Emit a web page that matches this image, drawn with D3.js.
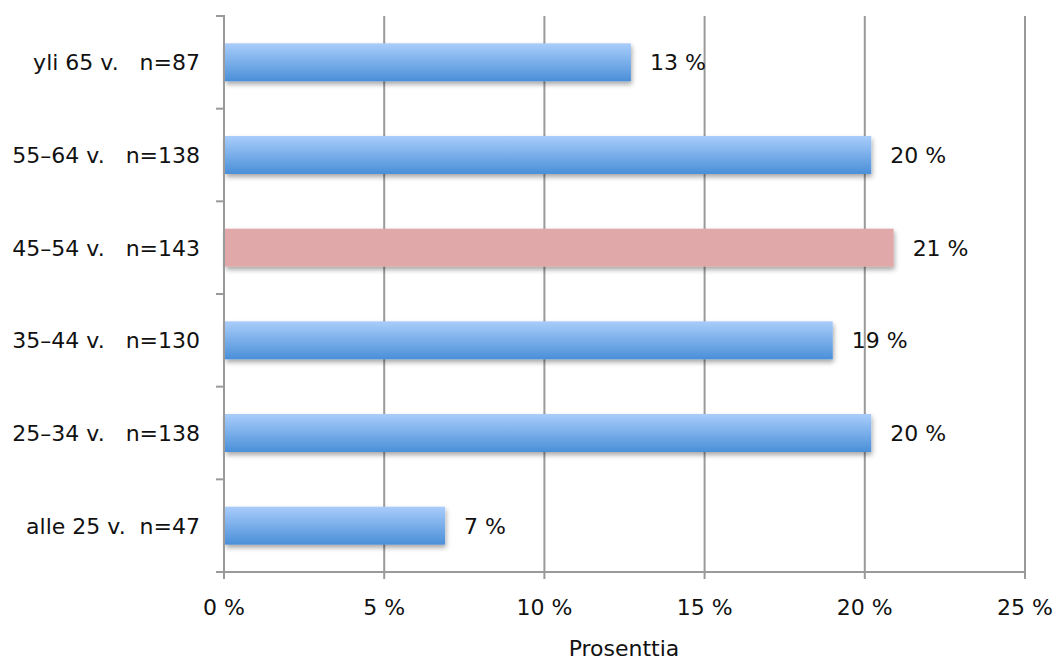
<!DOCTYPE html>
<html>
<head>
<meta charset="utf-8">
<script src="https://cdn.jsdelivr.net/npm/d3@7"></script>
<style>
  html, body { margin: 0; padding: 0; background: #fff; }
  svg { display: block; }
  text { font-family: "DejaVu Sans", sans-serif; fill: #111; }
</style>
</head>
<body>
<svg id="chart" width="1058" height="660"></svg>
<script>
// Age groups, top to bottom
const groups = ["yli 65 v.", "55–64 v.", "45–54 v.", "35–44 v.", "25–34 v.", "alle 25 v."];
const counts = ["n=87", "n=138", "n=143", "n=130", "n=138", "n=47"];
const gaps   = ["   ", "   ", "   ", "   ", "   ", "  "];
// Share of respondents, percent
const values = [12.7, 20.2, 20.9, 19.0, 20.2, 6.9];
const valueLabels = ["13 %", "20 %", "21 %", "19 %", "20 %", "7 %"];
const highlighted = [false, false, true, false, false, false];
const xTicks = [0, 5, 10, 15, 20, 25];
const xTickLabels = ["0 %", "5 %", "10 %", "15 %", "20 %", "25 %"];
const xTitle = "Prosenttia";

const svg = d3.select("#chart");
const plotLeft = 224, plotRight = 1025, plotTop = 16, plotBottom = 572;
const fontSize = 22;

const x = d3.scaleLinear().domain([0, 25]).range([plotLeft, plotRight]);
const y = d3.scaleBand().domain(d3.range(groups.length)).range([plotTop, plotBottom]).paddingInner(0.59).paddingOuter(0.295);

const defs = svg.append("defs");
const grad = defs.append("linearGradient").attr("id", "barBlue").attr("x1", 0).attr("y1", 0).attr("x2", 0).attr("y2", 1);
grad.append("stop").attr("offset", "0%").attr("stop-color", "#a9cdfb");
grad.append("stop").attr("offset", "100%").attr("stop-color", "#4a8fd8");
const shadow = defs.append("filter").attr("id", "shadow").attr("x", "-5%").attr("y", "-30%").attr("width", "115%").attr("height", "170%");
shadow.append("feDropShadow").attr("dx", 1).attr("dy", 3).attr("stdDeviation", 2.5).attr("flood-color", "#000").attr("flood-opacity", 0.35);

// vertical gridlines with ticks below the axis
svg.append("g").selectAll("line").data(xTicks.slice(1)).join("line")
  .attr("x1", d => x(d)).attr("x2", d => x(d))
  .attr("y1", plotTop).attr("y2", plotBottom + 7)
  .attr("stroke", "#9a9a9a").attr("stroke-width", 2);

// bars
svg.append("g").selectAll("rect").data(values).join("rect")
  .attr("x", x(0) + 1)
  .attr("y", (d, i) => y(i))
  .attr("width", d => x(d) - x(0) - 1)
  .attr("height", y.bandwidth())
  .attr("fill", (d, i) => highlighted[i] ? "#e0a8a8" : "url(#barBlue)")
  .attr("filter", "url(#shadow)");

// value labels
svg.append("g").selectAll("text").data(values).join("text")
  .attr("x", d => x(d) + 19)
  .attr("y", (d, i) => y(i) + y.bandwidth() / 2 + 8)
  .attr("font-size", fontSize)
  .text((d, i) => valueLabels[i]);

// left axis with category separators
const yEdges = d3.range(groups.length + 1).map(i => plotTop + i * (plotBottom - plotTop) / groups.length);
svg.append("g").selectAll("line").data(yEdges).join("line")
  .attr("x1", plotLeft - 8).attr("x2", plotLeft)
  .attr("y1", d => d).attr("y2", d => d)
  .attr("stroke", "#9a9a9a").attr("stroke-width", 2);
svg.append("line").attr("x1", plotLeft).attr("x2", plotLeft).attr("y1", plotTop - 1).attr("y2", plotBottom + 7)
  .attr("stroke", "#9a9a9a").attr("stroke-width", 2);

// bottom axis
svg.append("line").attr("x1", plotLeft - 8).attr("x2", plotRight + 1).attr("y1", plotBottom).attr("y2", plotBottom)
  .attr("stroke", "#9a9a9a").attr("stroke-width", 2);

// category labels
svg.append("g").selectAll("text").data(groups).join("text")
  .attr("x", 200)
  .attr("y", (d, i) => y(i) + y.bandwidth() / 2 + 8)
  .attr("text-anchor", "end")
  .attr("font-size", fontSize)
  .style("white-space", "pre")
  .text((d, i) => d + gaps[i] + counts[i]);

// x tick labels
svg.append("g").selectAll("text").data(xTicks).join("text")
  .attr("x", d => x(d))
  .attr("y", 615)
  .attr("text-anchor", "middle")
  .attr("font-size", fontSize)
  .text((d, i) => xTickLabels[i]);

svg.append("text").attr("x", 624).attr("y", 656).attr("text-anchor", "middle")
  .attr("font-size", fontSize).text(xTitle);
</script>
</body>
</html>
